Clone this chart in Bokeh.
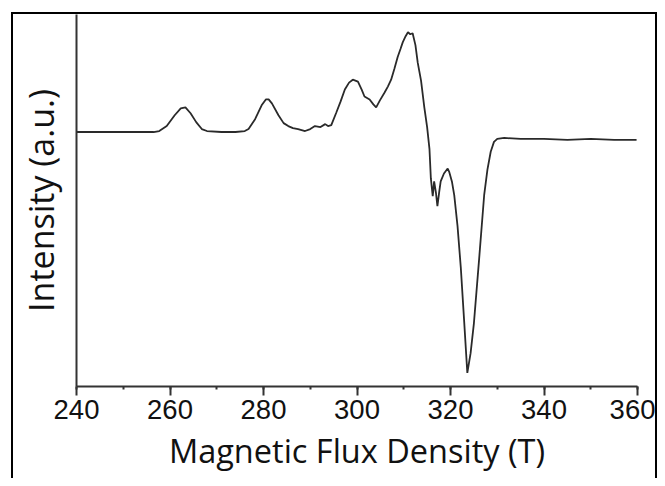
from bokeh.plotting import figure
from bokeh.embed import file_html
from bokeh.resources import INLINE
from bokeh.models import FixedTicker, Range1d

# Magnetic flux density (T) and intensity (a.u.)
field = [240.0, 250.0, 256.5, 257.7, 259.3, 261.0, 262.3, 263.3, 264.4, 265.6,
         266.8, 267.9, 271.0, 274.0, 276.0, 276.8, 278.2, 279.6, 280.5, 281.1,
         281.8, 283.2, 284.3, 285.3, 286.3, 287.4, 288.9, 290.0, 291.0, 292.2,
         293.2, 293.8, 294.5, 295.6, 296.5, 297.4, 298.3, 299.1, 300.2, 301.0,
         301.6, 302.7, 303.5, 304.1, 304.9, 305.9, 306.6, 307.3, 308.0, 308.7,
         309.3, 309.8, 310.4, 310.9, 311.4, 311.9, 312.5, 313.0, 313.7, 314.4,
         315.0, 315.5, 315.8, 316.2, 316.5, 316.9, 317.2, 317.6, 317.9, 318.6,
         319.4, 319.7, 320.3, 320.8, 321.5, 322.2, 322.9, 323.6, 324.3, 325.0,
         326.1, 327.2, 327.9, 328.6, 329.3, 330.0, 331.5, 335.0, 340.0, 345.0,
         350.0, 355.0, 359.8]
intensity = [0, 0, 0, 1, 6, 17, 24, 25, 19, 10,
             3, 1, 0, 0, 1, 3, 13, 27, 33, 33,
             29, 17, 9, 6, 4, 3, 1, 3, 6, 5,
             8, 6, 7, 20, 31, 43, 50, 53, 51, 43,
             36, 33, 28, 25, 32, 40, 46, 53, 64, 76,
             84, 91, 97, 101, 99, 100, 88, 70, 52, 25,
             5, -17, -47, -65, -50, -62, -75, -60, -50, -42,
             -37, -40, -50, -64, -95, -137, -190, -244, -224, -194,
             -130, -64, -38, -20, -10, -7, -6, -7, -7, -8,
             -7, -8, -8]

x_ticks = [240, 260, 280, 300, 320, 340, 360]
x_minor = [240, 250, 260, 270, 280, 290, 300, 310, 320, 330, 340, 350, 360]

p = figure(width=646, height=466, output_backend="svg", toolbar_location=None,
           x_range=Range1d(240, 360), y_range=Range1d(-257.7, 119),
           min_border_left=63, min_border_right=22, min_border_top=0,
           min_border_bottom=94)
p.styles = {"border-left": "2px solid black", "border-top": "2px solid black",
            "border-right": "2px solid black", "margin-left": "11px",
            "margin-top": "12px"}

p.line(field, intensity, line_color="#2a2a2a", line_width=1.8)

p.xgrid.visible = False
p.ygrid.visible = False
p.outline_line_color = None

xa = p.xaxis[0]
xa.ticker = FixedTicker(ticks=x_ticks, minor_ticks=x_minor)
xa.axis_line_width = 2
xa.axis_line_color = "#333333"
xa.major_tick_line_width = 2
xa.major_tick_line_color = "#333333"
xa.minor_tick_line_width = 2
xa.minor_tick_line_color = "#333333"
xa.major_tick_out = 9
xa.major_tick_in = 0
xa.minor_tick_out = 3
xa.minor_tick_in = 0
xa.major_label_text_font = "Liberation Sans"
xa.major_label_text_font_size = "27.5px"
xa.major_label_text_color = "#111111"
xa.major_label_standoff = 4
xa.axis_label = "Magnetic Flux Density (T)"
xa.axis_label_text_font = "Open Sans"
xa.axis_label_text_font_style = "normal"
xa.axis_label_text_font_size = "32.5px"
xa.axis_label_text_color = "#111111"
xa.axis_label_standoff = 6

ya = p.yaxis[0]
ya.ticker = FixedTicker(ticks=[])
ya.axis_line_width = 2
ya.axis_line_color = "#333333"
ya.major_tick_line_color = None
ya.minor_tick_line_color = None
ya.major_label_text_font_size = "0px"
ya.major_label_standoff = 3
ya.axis_label = "Intensity (a.u.)"
ya.axis_label_text_font = "Open Sans"
ya.axis_label_text_font_style = "normal"
ya.axis_label_text_font_size = "34px"
ya.axis_label_text_color = "#111111"
ya.axis_label_standoff = 13

open("out.html", "w").write(file_html(p, INLINE))
